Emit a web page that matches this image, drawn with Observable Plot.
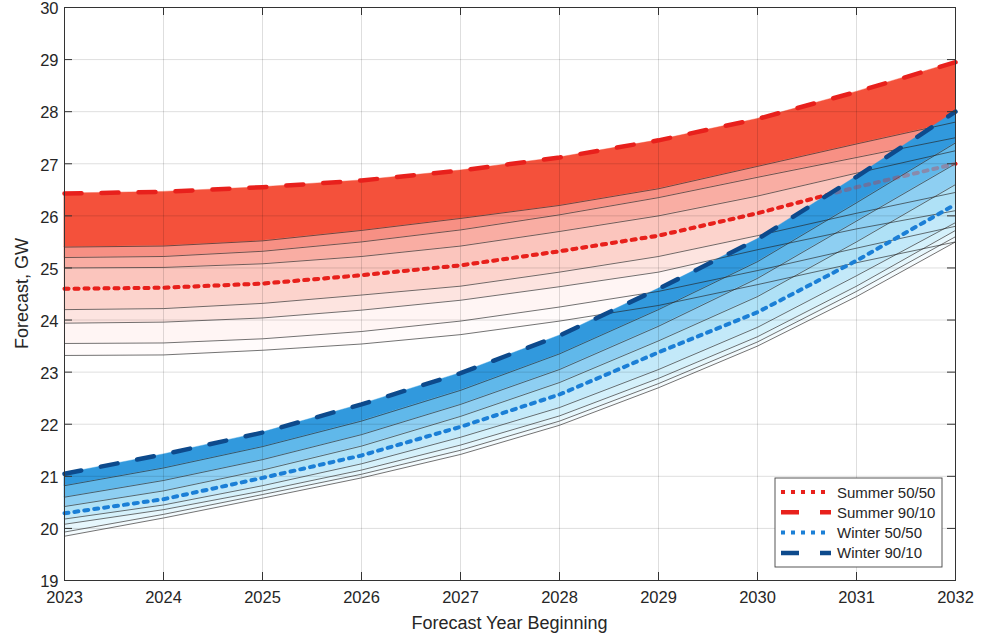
<!DOCTYPE html>
<html><head><meta charset="utf-8">
<script src="https://cdn.jsdelivr.net/npm/d3@7"></script>
<script src="https://cdn.jsdelivr.net/npm/@observablehq/plot@0.6"></script>
<style>
body{margin:0;background:#fff}
#chart{position:relative;width:993px;height:636px}
</style>
</head><body><div id="chart"></div>
<script>
// ---- data ----
const years = [2023,2024,2025,2026,2027,2028,2029,2030,2031,2032];
const xTicks = [2023,2024,2025,2026,2027,2028,2029,2030,2031,2032];
const yTicks = [19,20,21,22,23,24,25,26,27,28,29,30];

// Summer forecast fan (lowest to highest)
const summerLow1 = [23.32,23.33,23.42,23.54,23.72,23.98,24.28,24.68,25.10,25.50];
const summerLow2 = [23.55,23.56,23.64,23.78,23.98,24.25,24.55,24.95,25.38,25.80];
const summerLow3 = [23.94,23.96,24.04,24.19,24.38,24.64,24.92,25.35,25.75,26.10];
const summerLow4 = [24.20,24.22,24.32,24.48,24.65,24.92,25.22,25.62,26.05,26.45];
const summer5050 = [24.60,24.62,24.70,24.86,25.05,25.32,25.62,26.05,26.55,27.00];
const summerHigh1 = [25.00,25.01,25.08,25.22,25.42,25.70,26.00,26.38,26.82,27.25];
const summerHigh2 = [25.20,25.22,25.32,25.50,25.73,26.02,26.35,26.74,27.12,27.50];
const summerHigh3 = [25.40,25.42,25.52,25.72,25.95,26.20,26.52,26.95,27.38,27.80];
const summer9010 = [26.43,26.46,26.55,26.68,26.87,27.12,27.45,27.86,28.38,28.95];

// Winter forecast fan (lowest to highest)
const winterLow1 = [19.85,20.20,20.58,20.97,21.42,21.98,22.70,23.50,24.45,25.50];
const winterLow2 = [19.93,20.27,20.65,21.04,21.50,22.06,22.78,23.58,24.55,25.60];
const winterLow3 = [20.08,20.36,20.72,21.12,21.60,22.16,22.88,23.68,24.65,25.72];
const winterLow4 = [20.18,20.45,20.82,21.24,21.75,22.32,23.05,23.86,24.85,25.87];
const winter5050 = [20.29,20.56,20.97,21.40,21.95,22.57,23.38,24.15,25.14,26.22];
const winterHigh1 = [20.42,20.72,21.12,21.58,22.15,22.80,23.60,24.45,25.50,26.60];
const winterHigh2 = [20.60,20.92,21.32,21.80,22.38,23.05,23.88,24.80,25.90,27.00];
const winterHigh3 = [20.82,21.16,21.57,22.06,22.65,23.35,24.20,25.12,26.25,27.40];
const winter9010 = [21.05,21.42,21.84,22.38,22.98,23.70,24.60,25.55,26.75,28.00];

const legendLabels = ["Summer 50/50","Summer 90/10","Winter 50/50","Winter 90/10"];

// ---- styles ----
const summerCurves = [summerLow1,summerLow2,summerLow3,summerLow4,summer5050,summerHigh1,summerHigh2,summerHigh3,summer9010];
const winterCurves = [winterLow1,winterLow2,winterLow3,winterLow4,winter5050,winterHigh1,winterHigh2,winterHigh3,winter9010];
const summerFills = ["#fffbfb","#fff5f4","#fde4e0","#fcd3cc","#fbc5bd","#f9ada3","#f79084","#f4513b"];
const winterFills = ["#f3fbfe","#e6f7fd","#d5f1fb","#c3e9f9","#afe1f6","#8ecff2","#60b8ea","#3199dd"];
const RED = "#e8201c", WBLUE = "#1b7fd6", WNAVY = "#0d4a8c";
const DASH = "17,20", DOT = "4,6";

const series = arr => years.map((x,j)=>({x, y: arr[j]}));
const band = (lo, hi) => years.map((x,j)=>({x, y1: lo[j], y2: hi[j]}));

const W = 993, H = 636, mL = 64, mR = 38, mT = 7, mB = 56;
const pW = W - mL - mR, pH = H - mT - mB;

const marks = [];
// summer bands
for (let i = 0; i < summerCurves.length - 1; i++) {
  marks.push(Plot.areaY(band(summerCurves[i], summerCurves[i+1]), {x:"x", y1:"y1", y2:"y2", fill: summerFills[i], stroke: summerFills[i], strokeWidth: 0.4}));
}
marks.push(Plot.line(series(summer5050), {x:"x", y:"y", stroke: RED, strokeWidth: 4, strokeDasharray: DOT}));
// winter bands
for (let i = 0; i < winterCurves.length - 1; i++) {
  marks.push(Plot.areaY(band(winterCurves[i], winterCurves[i+1]), {x:"x", y1:"y1", y2:"y2", fill: winterFills[i], stroke: winterFills[i], strokeWidth: 0.4}));
}
// grid
marks.push(Plot.gridX(xTicks, {stroke:"#000", strokeOpacity:0.13}));
marks.push(Plot.gridY(yTicks, {stroke:"#000", strokeOpacity:0.13}));
// thin fan lines
[0,1,2,3,5,6,7].forEach(i => {
  marks.push(Plot.line(series(summerCurves[i]), {x:"x", y:"y", stroke:"#222", strokeWidth:0.8, strokeOpacity:0.8}));
  marks.push(Plot.line(series(winterCurves[i]), {x:"x", y:"y", stroke:"#222", strokeWidth:0.8, strokeOpacity:0.8}));
});
// key lines
marks.push(Plot.line(series(summer5050), {x:"x", y:"y", stroke: RED, strokeWidth: 4, strokeDasharray: DOT, strokeOpacity: 0.3}));
marks.push(Plot.line(series(summer9010), {x:"x", y:"y", stroke: RED, strokeWidth: 4.5, strokeDasharray: DASH}));
marks.push(Plot.line(series(winter5050), {x:"x", y:"y", stroke: WBLUE, strokeWidth: 4, strokeDasharray: DOT}));
marks.push(Plot.line(series(winter9010), {x:"x", y:"y", stroke: WNAVY, strokeWidth: 4.5, strokeDasharray: DASH}));
// inward ticks on all sides
marks.push(Plot.tickY(yTicks, {y: d=>d, stroke:"#333", insetRight: pW - 8}));
marks.push(Plot.tickY(yTicks, {y: d=>d, stroke:"#333", insetLeft: pW - 8}));
marks.push(Plot.tickX(xTicks, {x: d=>d, stroke:"#333", insetTop: pH - 8}));
marks.push(Plot.tickX(xTicks, {x: d=>d, stroke:"#333", insetBottom: pH - 8}));
marks.push(Plot.frame({stroke:"#333", strokeWidth:1}));
// axes
marks.push(Plot.axisX(xTicks, {tickSize:0, tickPadding:11, tickFormat: d=>String(d), fontSize:16.5, fill:"#262626", label:null}));
marks.push(Plot.axisY(yTicks, {tickSize:0, tickPadding:6, dy:1.5, tickFormat: d=>String(d), fontSize:16.5, fill:"#262626", label:null}));

const svg = Plot.plot({
  width: W, height: H,
  marginLeft: mL, marginRight: mR, marginTop: mT, marginBottom: mB,
  x: {type:"linear", domain:[2023,2032]},
  y: {type:"linear", domain:[19,30]},
  style: {fontFamily: "'Liberation Sans', Arial, Helvetica, sans-serif", background:"#fff", overflow:"visible"},
  marks
});
document.getElementById("chart").appendChild(svg);

const s = d3.select(svg);
const font = "'Liberation Sans', Arial, Helvetica, sans-serif";
s.append("text").attr("x", mL + pW/2).attr("y", 623).attr("text-anchor","middle").attr("dominant-baseline","central")
  .attr("font-family", font).attr("font-size", 18).attr("fill","#262626").text("Forecast Year Beginning");
s.append("text").attr("transform", `translate(22,${mT + pH/2}) rotate(-90)`).attr("text-anchor","middle").attr("dominant-baseline","central")
  .attr("font-family", font).attr("font-size", 18).attr("fill","#262626").text("Forecast, GW");

// legend
const lg = s.append("g");
lg.append("rect").attr("x",775).attr("y",478).attr("width",167).attr("height",89).attr("fill","#fff").attr("stroke","#444").attr("stroke-width",0.9);
const lgStyles = [
  {stroke: RED, dash: DOT, w: 4},
  {stroke: RED, dash: "18,21", w: 4.5},
  {stroke: WBLUE, dash: DOT, w: 4},
  {stroke: WNAVY, dash: "18,21", w: 4.5}
];
legendLabels.forEach((t,i) => {
  const y = 492 + i*20.3;
  lg.append("line").attr("x1",781).attr("x2",831).attr("y1",y).attr("y2",y)
    .attr("stroke", lgStyles[i].stroke).attr("stroke-width", lgStyles[i].w).attr("stroke-dasharray", lgStyles[i].dash);
  lg.append("text").attr("x",837).attr("y",y).attr("text-anchor","start").attr("dominant-baseline","central")
    .attr("font-family", font).attr("font-size", 15).attr("fill","#262626").text(t);
});
</script>
</body></html>
